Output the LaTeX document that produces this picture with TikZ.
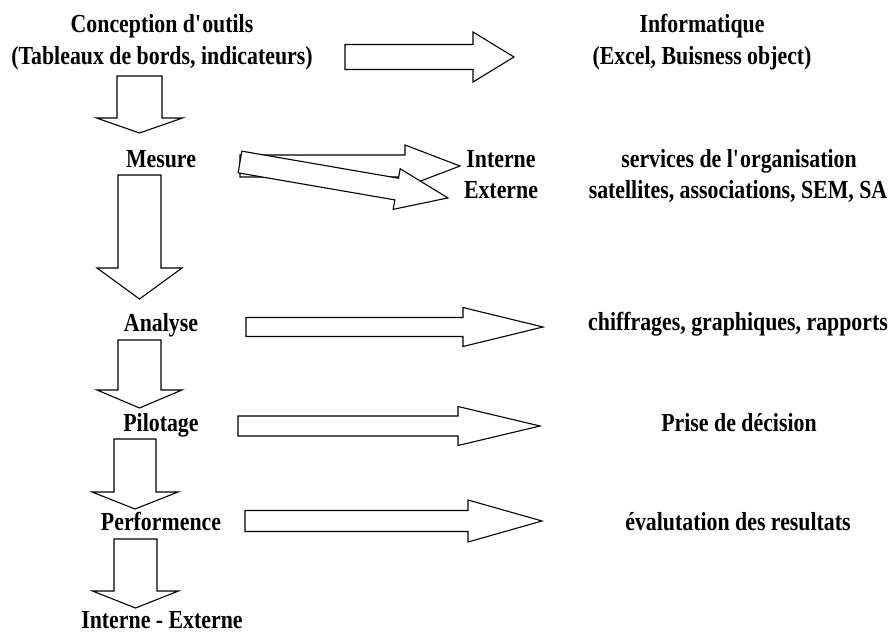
\documentclass[tikz,border=0pt]{standalone}
\usepackage{fontspec}
\setmainfont{Liberation Serif}[FakeStretch=0.84]
% block arrow along local x: head base, tip, shaft half width, head half width
\newcommand{\blockarrow}[4]{%
 \filldraw[fill=white] (0,-#3)--(#1,-#3)--(#1,-#4)--(#2,0)--(#1,#4)--(#1,#3)--(0,#3)--cycle;}
\begin{document}
\begin{tikzpicture}[x=1pt,y=-1pt,line width=1.1pt,
 font=\fontsize{26}{31}\selectfont\bfseries,
 lbl/.style={inner sep=0pt,anchor=base}]
 \useasboundingbox (0,0) rectangle (889,632);
 % left column
 \node[lbl] (concept) at (162,32) {Conception d\textquotesingle outils};
 \node[lbl] (tableaux) at (162,64) {(Tableaux de bords, indicateurs)};
 \node[lbl] (mesure) at (161,167) {Mesure};
 \node[lbl] (analyse) at (161,331) {Analyse};
 \node[lbl] (pilotage) at (161,431) {Pilotage};
 \node[lbl] (perf) at (161,530) {Performence};
 \node[lbl] (intext) at (162,628) {Interne - Externe};
 % right column
 \node[lbl] (info) at (702,32) {Informatique};
 \node[lbl] (excel) at (702,64) {(Excel, Buisness object)};
 \node[lbl] (interne) at (501,167) {Interne};
 \node[lbl] (externe) at (501,198) {Externe};
 \node[lbl] (services) at (739,167) {services de l\textquotesingle organisation};
 \node[lbl] (satellites) at (738,198) {satellites, associations, SEM, SA};
 \node[lbl] (chiffres) at (738,330) {chiffrages, graphiques, rapports};
 \node[lbl] (decision) at (739,431) {Prise de décision};
 \node[lbl] (evaluation) at (738,530) {évalutation des resultats};
 % arrows going right
 \foreach \xs/\ys/\hb/\tp/\sw/\hw in {345/57/128/169/12.5/25,
   240/166/165/220/11/21, 246/327/217/297/9.5/19.5,
   238/426/220/302/10/19.5, 245/521/223/297/10.5/21}{
  \begin{scope}[shift={(\xs,\ys)}]
   \blockarrow{\hb}{\tp}{\sw}{\hw}
  \end{scope}
 }
 \begin{scope}[shift={(240,162)},rotate=-9.8]
  \blockarrow{159}{211}{11}{20.6}
 \end{scope}
 % arrows going down
 \foreach \xs/\ys/\hb/\tp/\sw/\hw in {139.5/76/42/57/22.5/43,
   139.5/175/93/124/21.5/42.5, 139.5/340/50/68/21.5/42.5,
   135/439/53/70/21/43, 135.5/539/52/69/21.5/43}{
  \begin{scope}[shift={(\xs,\ys)},rotate=-90]
   \blockarrow{\hb}{\tp}{\sw}{\hw}
  \end{scope}
 }
\end{tikzpicture}
\end{document}
